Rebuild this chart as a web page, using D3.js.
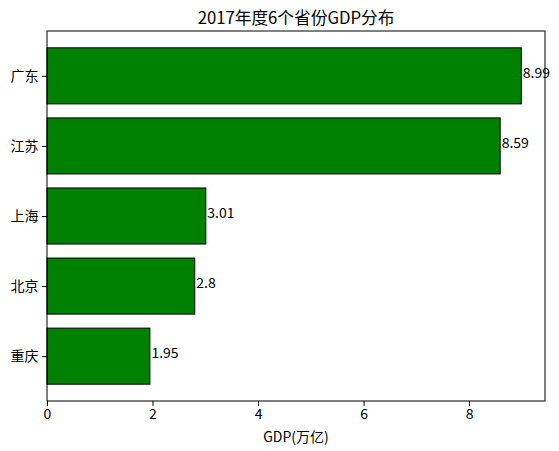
<!DOCTYPE html>
<html><head><meta charset="utf-8">
<script src="https://cdn.jsdelivr.net/npm/d3@7"></script>
<style>body{margin:0;background:#fff;} svg{display:block;}</style>
</head><body>
<script>
const categories = ["重庆", "北京", "上海", "江苏", "广东"];
const values = [1.95, 2.8, 3.01, 8.59, 8.99];
const xTicks = [0, 2, 4, 6, 8];
const title = "2017年度6个省份GDP分布";
const xLabel = "GDP(万亿)";

const W = 559, H = 451;
const m = {left: 47, right: 545, top: 31, bottom: 401};
const font = "'Noto Sans CJK SC', 'DejaVu Sans', sans-serif";

const svg = d3.select("body").append("svg").attr("width", W).attr("height", H)
  .style("font-family", font);

const xMax = d3.max(values) * 1.05;
const x = d3.scaleLinear().domain([0, xMax]).range([m.left, m.right]);
const n = categories.length;
const pad = (n - 1 + 0.8) * 0.05;
const y = d3.scaleLinear().domain([-0.4 - pad, n - 1 + 0.4 + pad]).range([m.bottom, m.top]);
const bh = 0.8;

const data = categories.map((c, i) => ({c, v: values[i], i}));

svg.append("g").selectAll("rect").data(data).join("rect")
  .attr("x", x(0))
  .attr("y", d => y(d.i + bh / 2))
  .attr("width", d => x(d.v) - x(0))
  .attr("height", d => y(d.i - bh / 2) - y(d.i + bh / 2))
  .attr("fill", "#008000")
  .attr("stroke", "#000")
  .attr("stroke-width", 1);

svg.append("g").selectAll("text").data(data).join("text")
  .attr("x", d => x(d.v) + 1.5)
  .attr("y", d => y(d.i))
  .attr("dy", "0.15em")
  .attr("font-size", 14)
  .attr("fill", "#000")
  .text(d => String(d.v));

const xAxis = d3.axisBottom(x).tickValues(xTicks).tickFormat(d3.format("d")).tickSize(4.9).tickPadding(3.5);
const gx = svg.append("g").attr("transform", `translate(0,${m.bottom})`).call(xAxis);
gx.select(".domain").remove();
gx.selectAll("text").attr("font-size", 14).attr("font-family", font).attr("fill", "#000");
gx.selectAll("line").attr("stroke", "#000");

const yAxis = d3.axisLeft(y).tickValues(d3.range(n)).tickFormat(i => categories[i]).tickSize(4.9).tickPadding(3.5);
const gy = svg.append("g").attr("transform", `translate(${m.left},0)`).call(yAxis);
gy.select(".domain").remove();
gy.selectAll("text").attr("font-size", 14).attr("font-family", font).attr("fill", "#000");
gy.selectAll("line").attr("stroke", "#000");

svg.append("rect").attr("x", m.left).attr("y", m.top)
  .attr("width", m.right - m.left).attr("height", m.bottom - m.top)
  .attr("fill", "none").attr("stroke", "#000").attr("stroke-width", 1);

svg.append("text").attr("x", (m.left + m.right) / 2).attr("y", 24)
  .attr("text-anchor", "middle").attr("font-size", 16.7).attr("fill", "#000")
  .text(title);

svg.append("text").attr("x", (m.left + m.right) / 2).attr("y", 442)
  .attr("text-anchor", "middle").attr("font-size", 14).attr("fill", "#000")
  .text(xLabel);
</script>
</body></html>
